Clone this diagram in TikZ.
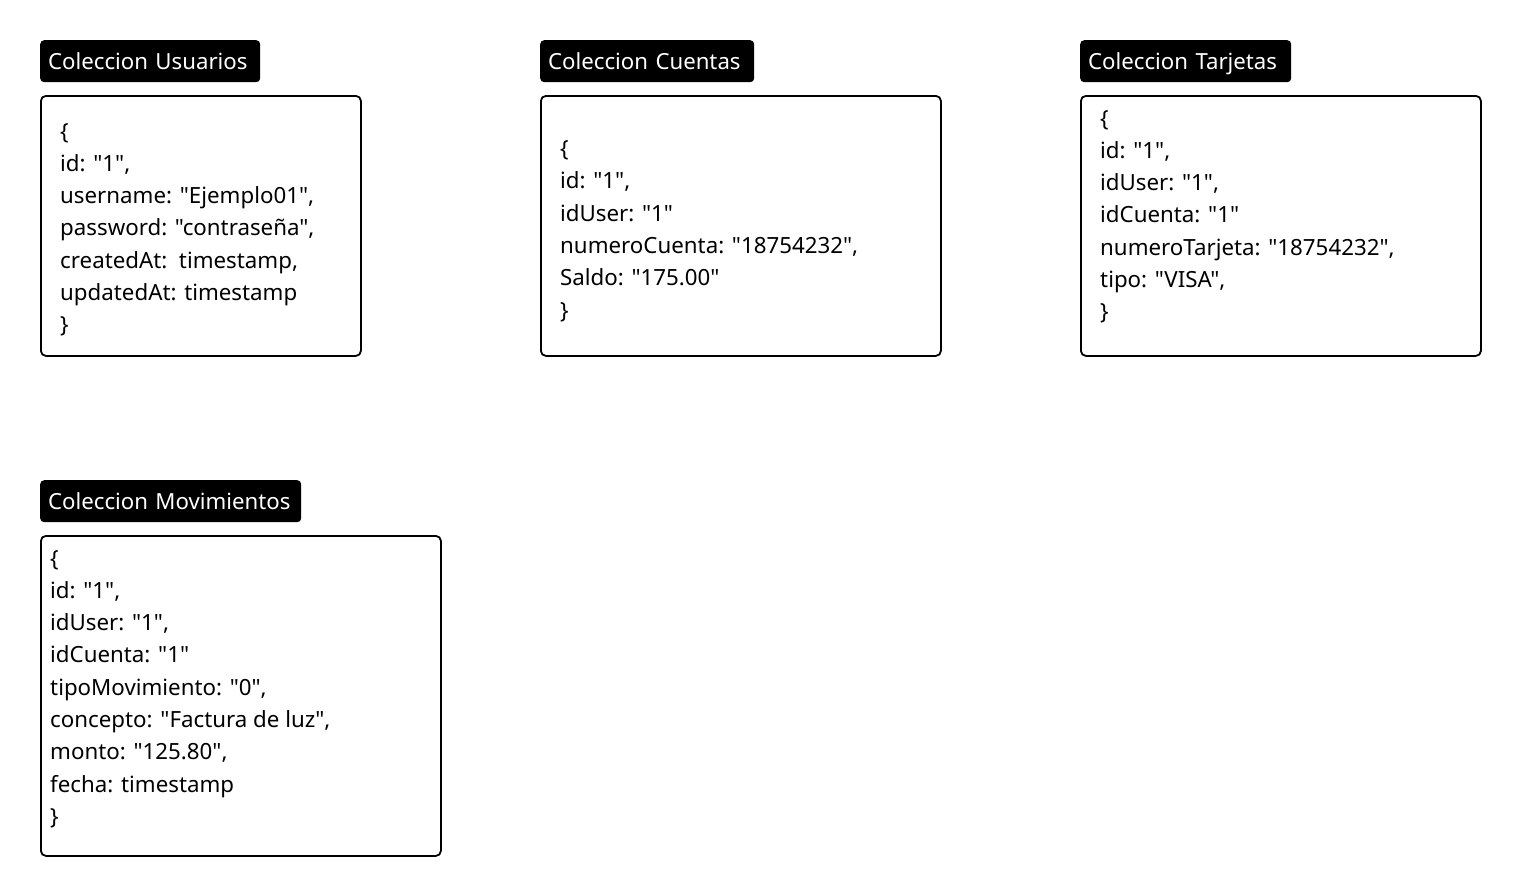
\documentclass[tikz,border=0pt]{standalone}
\usepackage{fontspec}
\setmainfont{Noto Sans}[Ligatures=TeXOff]
\begin{document}
\begin{tikzpicture}[x=1pt,y=-1pt,
  title/.style={fill=black, rounded corners=4pt, anchor=north west, minimum height=42pt,
    inner xsep=8pt, inner ysep=0pt, text=white, align=left, text height=15.6pt, text depth=0pt,
    font=\fontsize{22.2}{26}\selectfont},
  cbox/.style={draw=black, line width=1.8pt, rounded corners=5pt, anchor=north west, inner sep=0pt},
  jl/.style={anchor=base west, inner sep=0pt, font=\fontsize{22.3}{27}\selectfont}
]
\useasboundingbox (0,0) rectangle (1520,895);
\newcommand\jsonlines[4]{%
  \foreach \t [count=\i] in {#4} {\node[jl] (#1\i) at (#2, {#3+(\i-1)*32.3}) {\t};}}

% Usuarios
\node[title, text width=204pt] (tu) at (40,40) {Coleccion Usuarios};
\node[cbox, minimum width=320pt, minimum height=260pt] (bu) at (40,95) {};
\jsonlines{u}{60}{139}{{\{},{id: "1",},{username: "Ejemplo01",},{password: "contraseña",},{createdAt:\ \ timestamp,},{updatedAt: timestamp},{\}}}

% Cuentas
\node[title, text width=198pt] (tc) at (540,40) {Coleccion Cuentas};
\node[cbox, minimum width=400pt, minimum height=260pt] (bc) at (540,95) {};
\jsonlines{c}{560}{156.5}{{\{},{id: "1",},{idUser: "1"},{numeroCuenta: "18754232",},{Saldo: "175.00"},{\}}}

% Tarjetas
\node[title, text width=195pt] (tt) at (1080,40) {Coleccion Tarjetas};
\node[cbox, minimum width=400pt, minimum height=260pt] (bt) at (1080,95) {};
\jsonlines{t}{1100}{126}{{\{},{id: "1",},{idUser: "1",},{idCuenta: "1"},{numeroTarjeta: "18754232",},{tipo: "VISA",},{\}}}

% Movimientos
\node[title, text width=245pt] (tm) at (40,480) {Coleccion Movimientos};
\node[cbox, minimum width=400pt, minimum height=320pt] (bm) at (40,535) {};
\jsonlines{m}{50}{566}{{\{},{id: "1",},{idUser: "1",},{idCuenta: "1"},{tipoMovimiento: "0",},{concepto: "Factura de luz",},{monto: "125.80",},{fecha: timestamp},{\}}}
\end{tikzpicture}
\end{document}
